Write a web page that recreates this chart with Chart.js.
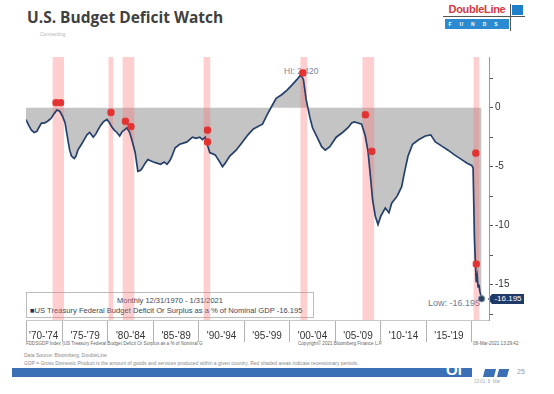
<!DOCTYPE html>
<html>
<head>
<meta charset="utf-8">
<script src="https://cdn.jsdelivr.net/npm/chart.js@4.4.0/dist/chart.umd.min.js"></script>
<style>
html, body { margin: 0; padding: 0; background: #fff; }
#wrap { position: relative; width: 554px; height: 394px; overflow: hidden; font-family: "Liberation Sans", Arial, sans-serif; }
#chart { position: absolute; left: 0; top: 0; z-index: 2; }
.t { position: absolute; white-space: nowrap; z-index: 1; }
</style>
</head>
<body>
<div id="wrap">
  <div class="t" style="left:27px;top:9px;font:700 15.5px/16px 'Open Sans';color:#404040;">U.S. Budget Deficit Watch</div>
  <div class="t" style="left:40px;top:31px;font-size:5px;color:#b5b5b5;">Connecting</div>

  <!-- logo -->
  <div class="t" style="left:445px;top:3px;width:64px;height:12px;font:700 11px/12px 'Liberation Sans';color:#d8383f;text-align:center;letter-spacing:-0.3px;">DoubleLine</div>
  <div class="t" style="left:445px;top:19px;width:64px;height:10px;background:#2b8ad0;color:#fff;font:700 5px/10px 'Liberation Sans';letter-spacing:8px;text-align:center;">FUNDS</div>
  <div class="t" style="left:443px;top:16px;width:82px;height:1px;background:#555;"></div>
  <div class="t" style="left:510px;top:4px;width:1px;height:27px;background:#555;"></div>
  <div class="t" style="left:512px;top:5px;width:11px;height:10px;background:#1f7fc8;"></div>

  <!-- annotations inside plot -->
  <div class="t" style="left:284px;top:66px;font-size:8.5px;color:#7b879a;">HI: 2.420</div>
  <div class="t" style="left:26px;top:292px;width:288px;height:26px;border:1px solid #bdbdbd;box-sizing:border-box;background:#fff;z-index:0;"></div>
  <div class="t" style="left:26px;top:296px;width:288px;text-align:center;font-size:7.5px;color:#3d4656;">Monthly 12/31/1970 - 1/31/2021</div>
  <div class="t" style="left:30px;top:306px;font-size:7.6px;color:#3d4656;"><span style="color:#1f3556;">&#9632;</span>US Treasury Federal Budget Deficit Or Surplus as a % of Nominal GDP -16.195</div>
  <div class="t" style="left:428px;top:298px;font-size:9px;color:#6b7b92;">Low: -16.195</div>
  <div class="t" style="left:488px;top:294px;width:0;height:0;border-top:5px solid transparent;border-bottom:5px solid transparent;border-right:4px solid #1f3a66;"></div>
  <div class="t" style="left:492px;top:294px;width:32px;height:10px;background:#1f3a66;color:#fff;font:8px/10px 'Liberation Sans';text-align:center;">-16.195</div>

  <!-- footers -->
  <div class="t" style="left:26px;top:341px;font-size:4.6px;color:#666;">FDDSGDP Index (US Treasury Federal Budget Deficit Or Surplus as a % of Nominal G</div>
  <div class="t" style="left:298px;top:341px;font-size:4.6px;color:#666;">Copyright&copy; 2021 Bloomberg Finance L.P.</div>
  <div class="t" style="left:473px;top:341px;font-size:4.6px;color:#666;">08-Mar-2021 13:29:42</div>
  <div class="t" style="left:24px;top:352px;font-size:5px;color:#8a8a8a;">Data Source: Bloomberg, DoubleLine</div>
  <div class="t" style="left:24px;top:360px;font-size:5px;color:#8a8a8a;">GDP = Gross Domestic Product is the amount of goods and services produced within a given country. Red shaded areas indicate recessionary periods.</div>
  <div class="t" style="left:12px;top:368px;width:460px;height:9px;background:#3b6fb6;"></div>
  <div class="t" style="left:446px;top:362px;font:700 15px/16px 'Liberation Sans';color:#fff;">Ol</div>
  <div class="t" style="left:484px;top:369px;width:11px;height:8px;background:#3b6fb6;transform:skewX(-15deg);"></div>
  <div class="t" style="left:498px;top:369px;width:10px;height:8px;background:#3b6fb6;transform:skewX(-15deg);"></div>
  <div class="t" style="left:517px;top:368px;font-size:7px;color:#999;">25</div>
  <div class="t" style="left:474px;top:379px;font-size:4.5px;color:#aaa;">13:01 &nbsp;8 &nbsp;Mar</div>

  <canvas id="chart" width="554" height="394"></canvas>
</div>
<script>
// monthly series (year as decimal, % of GDP)
const years = [
  1971.0, 1971.3, 1971.6, 1971.9, 1972.2, 1972.4, 1972.7, 1973.0, 1973.3, 1973.6,
  1973.8, 1974.1, 1974.4, 1974.7, 1975.0, 1975.3, 1975.6, 1975.8, 1976.0, 1976.3,
  1976.5, 1976.7, 1977.1, 1977.4, 1977.7, 1978.0, 1978.4, 1978.7, 1978.9, 1979.2,
  1979.5, 1979.9, 1980.2, 1980.4, 1980.7, 1981.0, 1981.3, 1981.6, 1981.8, 1982.1,
  1982.4, 1982.7, 1983.0, 1983.3, 1983.6, 1983.8, 1984.1, 1984.4, 1984.7, 1985.0,
  1985.4, 1985.8, 1986.2, 1986.5, 1986.8, 1987.0, 1987.4, 1987.9, 1988.3, 1988.7,
  1989.3, 1989.7, 1990.1, 1990.4, 1990.7, 1991.0, 1991.2, 1991.8, 1992.3, 1992.6,
  1992.9, 1993.4, 1994.1, 1994.8, 1995.4, 1996.0, 1996.5, 1997.0, 1997.5, 1998.0,
  1998.5, 1999.1, 1999.7, 2000.2, 2000.8, 2001.2, 2001.5, 2001.8, 2002.2, 2002.5,
  2003.0, 2003.5, 2003.9, 2004.4, 2005.1, 2005.8, 2006.4, 2006.8, 2007.1, 2007.5,
  2007.9, 2008.3, 2008.6, 2008.9, 2009.1, 2009.4, 2009.7, 2010.0, 2010.5, 2010.9,
  2011.2, 2011.8, 2012.3, 2012.6, 2013.0, 2013.5, 2014.2, 2014.9, 2015.5, 2016.0,
  2016.8, 2017.4, 2018.1, 2018.9, 2019.5, 2020.0, 2020.15, 2020.3, 2020.4, 2020.5,
  2020.6, 2020.7, 2020.8, 2020.9, 2021.08
];
const deficit = [
  -1.0, -1.5, -1.9, -2.1, -2.0, -1.7, -1.3, -1.3, -1.2, -1.0,
  -0.85, -0.5, -0.2, -0.3, -0.7, -1.3, -2.7, -3.6, -4.1, -4.3,
  -4.1, -3.6, -3.1, -2.7, -2.3, -2.1, -2.5, -2.2, -1.9, -1.5,
  -1.2, -1.0, -1.3, -1.6, -1.9, -2.1, -2.4, -2.0, -1.9, -1.7,
  -2.1, -2.9, -3.8, -5.4, -5.3, -5.1, -4.7, -4.4, -4.5, -4.6,
  -4.7, -4.8, -4.6, -4.8, -4.5, -4.2, -3.4, -3.1, -3.0, -2.9,
  -2.5, -2.6, -2.5, -2.7, -2.5, -3.3, -3.8, -4.0, -4.6, -5.0,
  -4.7, -4.1, -3.6, -2.9, -2.3, -1.8, -1.6, -1.4, -0.6, 0.1,
  0.8, 1.1, 1.5, 1.9, 2.4, 2.8, 2.4, 0.7, -0.8, -1.7,
  -2.5, -3.3, -3.6, -3.3, -2.5, -2.1, -1.7, -1.3, -1.2, -1.3,
  -1.4, -2.4, -3.7, -6.1, -7.8, -9.2, -9.9, -9.2, -8.5, -8.9,
  -8.1, -7.5, -6.7, -5.5, -4.1, -3.1, -2.7, -2.4, -2.3, -2.9,
  -3.3, -3.6, -4.0, -4.4, -4.7, -4.9, -5.1, -11.0, -13.1, -14.8,
  -14.3, -15.2, -15.0, -15.6, -16.195
];

// recession shading
const recessionStart = [1973.9, 1980.05, 1981.6, 1990.5, 2001.15, 2007.97, 2020.18];
const recessionEnd   = [1975.2, 1980.6, 1982.93, 1991.28, 2001.92, 2009.3, 2020.84];

// red event markers
const markerYears  = [1974.3, 1974.8, 1980.34, 1981.93, 1982.54, 1990.95, 1990.95, 2001.44, 2008.31, 2009.02, 2020.45, 2020.5];
const markerValues = [0.42, 0.42, -0.4, -1.15, -1.6, -1.9, -2.9, 2.95, -0.6, -3.7, -3.85, -13.25];

// x axis: period labels and separators
const periodLabels = ["'70-'74", "'75-'79", "'80-'84", "'85-'89", "'90-'94", "'95-'99", "'00-'04", "'05-'09", "'10-'14", "'15-'19"];
const periodCenters = [1972.95, 1977.5, 1982.5, 1987.5, 1992.5, 1997.5, 2002.5, 2007.5, 2012.5, 2017.5];
const periodBreaks = [1971, 1975, 1980, 1985, 1990, 1995, 2000, 2005, 2010, 2015, 2020];

// y axis
const yTicks = [2.5, 0, -2.5, -5, -7.5, -10, -12.5, -15, -17.5];
const yMin = -18, yMax = 4.3;

const near = (arr, v) => arr.findIndex(a => Math.abs(a - v) < 0.01);

const series = years.map((x, i) => ({ x: x, y: deficit[i] }));
const last = series.length - 1;

const bands = recessionStart.map((s, i) => ({
  data: [{ x: s, y: yMax }, { x: recessionEnd[i], y: yMax }],
  borderWidth: 0,
  pointRadius: 0,
  fill: 'start',
  backgroundColor: 'rgba(255,115,115,0.34)',
  order: 2
}));

new Chart(document.getElementById('chart'), {
  type: 'line',
  data: {
    datasets: [
      {
        type: 'scatter',
        data: markerYears.map((x, i) => ({ x: x, y: markerValues[i] })),
        pointStyle: 'rectRounded',
        pointRadius: 3.6,
        backgroundColor: '#e23333',
        borderColor: '#e23333',
        order: 0
      },
      {
        data: series,
        borderColor: '#25406a',
        borderWidth: 1.7,
        fill: false,
        pointRadius: ctx => ctx.dataIndex === last ? 3.2 : 0,
        pointBackgroundColor: '#2d4461',
        pointBorderColor: '#7f93b0',
        pointBorderWidth: 1,
        tension: 0,
        order: 1
      },
      ...bands,
      {
        data: series,
        borderWidth: 0,
        pointRadius: 0,
        fill: 'origin',
        backgroundColor: '#c4c4c4',
        order: 3
      }
    ]
  },
  options: {
    responsive: false,
    animation: false,
    layout: { padding: { left: 26, top: 57, right: 35, bottom: 50 } },
    plugins: { legend: { display: false }, tooltip: { enabled: false } },
    scales: {
      x: {
        type: 'linear',
        min: 1971,
        max: 2021.9,
        afterBuildTicks: s => { s.ticks = periodBreaks.concat(periodCenters).sort((a, b) => a - b).map(v => ({ value: v })); },
        afterFit: s => { s.height = 24; },
        ticks: {
          autoSkip: false,
          maxRotation: 0,
          padding: -12,
          color: '#333',
          font: { family: 'Liberation Sans', size: 10 },
          callback: v => { const i = near(periodCenters, v); return i >= 0 ? periodLabels[i] : ''; }
        },
        grid: {
          drawOnChartArea: false,
          tickLength: 22,
          color: ctx => (ctx.tick && near(periodBreaks, ctx.tick.value) >= 0) ? '#b3b3b3' : 'rgba(0,0,0,0)'
        },
        border: { display: true, color: '#c8c8c8' }
      },
      y: {
        position: 'right',
        min: yMin,
        max: yMax,
        afterBuildTicks: s => { s.ticks = yTicks.map(v => ({ value: v })); },
        afterFit: s => { s.width = 30; },
        ticks: {
          padding: 2,
          color: '#333',
          font: { family: 'Liberation Sans', size: 10 },
          callback: v => v % 5 === 0 ? String(v) : ''
        },
        grid: { drawOnChartArea: false, tickLength: 4, color: '#555' },
        border: { color: '#999' }
      }
    }
  }
});
</script>
</body>
</html>
